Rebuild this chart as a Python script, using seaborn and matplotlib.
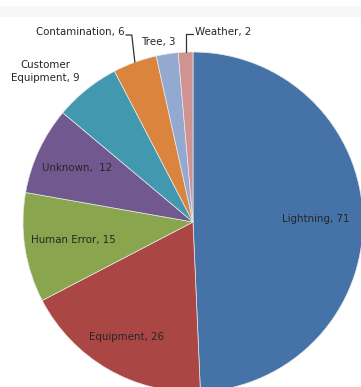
import numpy as np
import matplotlib
matplotlib.use("Agg")
import matplotlib.pyplot as plt
import seaborn as sns

# data, clockwise from 12 o'clock
causes = ["Lightning", "Equipment", "Human Error", "Unknown",
          "Customer\nEquipment", "Contamination", "Tree", "Weather"]
outages = [71, 26, 15, 12, 9, 6, 3, 2]
label_text = ["Lightning, 71", "Equipment, 26", "Human Error, 15", "Unknown,  12",
              "Customer\nEquipment, 9", "Contamination, 6", "Tree, 3", "Weather, 2"]

colors = sns.color_palette(["#4572A7", "#AA4643", "#89A54E", "#71588F",
                            "#4198AF", "#DB843D", "#93A9CF", "#D19392"])

sns.set_style("white")
plt.rcParams["font.family"] = ["DejaVu Sans"]

W, H = 361, 387
fig = plt.figure(figsize=(W / 100, H / 100), dpi=100)
fig.patch.set_facecolor("white")

# faint band at the top of the screenshot
fig.add_artist(plt.Rectangle((0, 1 - 17 / H), 1, 11 / H, transform=fig.transFigure,
                             color="#f6f7f9", lw=0, zorder=0))

# pie: centre (193, 222) px, radius 170 px
cx, cy, r = 193, 222, 170
ax = fig.add_axes([(cx - r) / W, (H - cy - r) / H, 2 * r / W, 2 * r / H])
wedges, _ = ax.pie(outages, colors=colors, startangle=90, counterclock=False,
                   wedgeprops=dict(linewidth=0.5, edgecolor="#e8e8e8"))
ax.set_xlim(-1, 1)
ax.set_ylim(-1, 1)
ax.set_aspect("auto")
ax.axis("off")

txt = dict(fontsize=7.4, color="#262626")


def mid(w):
    a = np.deg2rad((w.theta1 + w.theta2) / 2)
    return np.cos(a), np.sin(a)


# labels inside the big slices
inside = {0: 0.72, 1: 0.78, 2: 0.71, 3: 0.75}
for i, rad in inside.items():
    c, s = mid(wedges[i])
    ax.text(rad * c, rad * s, label_text[i], ha="center", va="center",
            clip_on=False, **txt)

# small slices outside
ax.text(-0.87, 0.885, label_text[4], ha="center", va="center",
        linespacing=1.35, clip_on=False, **txt)

c, s = mid(wedges[5])
ax.text(-0.40, 1.115, label_text[5], ha="right", va="center", clip_on=False, **txt)
ax.plot([-0.395, -0.36, c], [1.10, 1.10, s], color="#333333", lw=0.9, clip_on=False)

ax.text(-0.205, 1.06, label_text[6], ha="center", va="center", clip_on=False, **txt)

c, s = mid(wedges[7])
ax.text(0.01, 1.12, label_text[7], ha="left", va="center", clip_on=False, **txt)
ax.plot([c, c, 0.0], [s, 1.105, 1.105], color="#333333", lw=0.9, clip_on=False)

fig.savefig("out.png", dpi=100, facecolor="white")
